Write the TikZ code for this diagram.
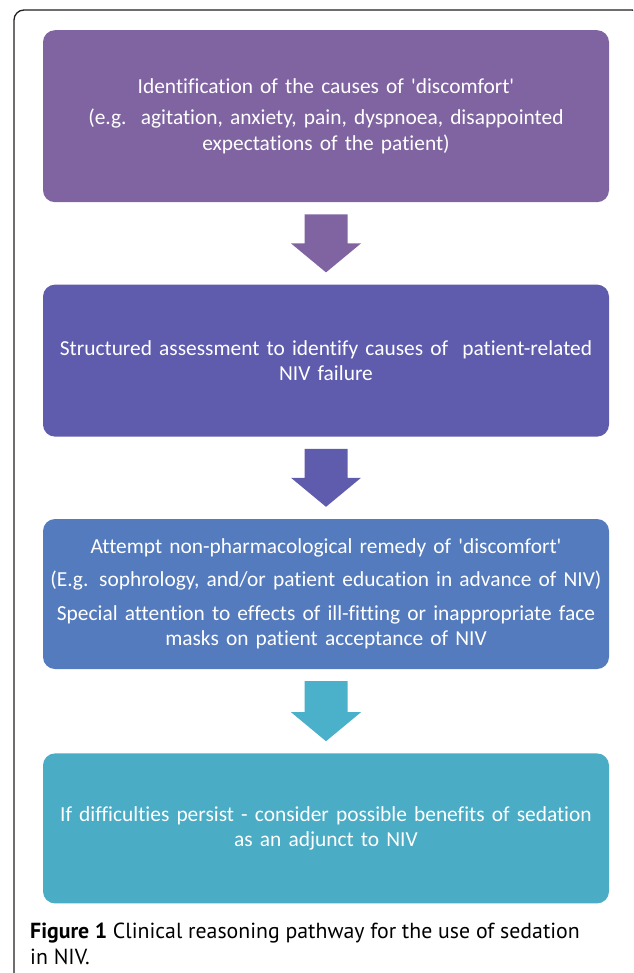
\documentclass[tikz,border=0pt]{standalone}
\usepackage{fontspec}
\setmainfont{Carlito}[Ligatures={NoCommon}]
\newfontfamily\capfont{PT Sans}
\usepackage{xcolor}
\usepackage{tikz}
\usetikzlibrary{positioning,calc}
\definecolor{stepA}{HTML}{8064A2}
\definecolor{stepB}{HTML}{5F5CAE}
\definecolor{stepC}{HTML}{547BBE}
\definecolor{stepD}{HTML}{4BACC6}
\definecolor{arrowC}{HTML}{4BB0C9}
\definecolor{framegray}{HTML}{231F20}
\tikzset{
  stepbox/.style={rectangle,rounded corners=12pt,draw=none,text=white,align=center,
    minimum width=566pt,text width=560pt,inner sep=0pt,
    font=\fontsize{21.4}{25.5}\selectfont},
  captiontext/.style={anchor=base west,align=left,inner sep=0pt,text=black,
    font=\capfont\fontsize{21.8}{26}\selectfont}
}
\newcommand{\q}{\textquotesingle}
\newcommand{\blockarrow}[3]{%
  \fill[#3] ($(#1.south)+(-21.5,-12)$) -- ($(#1.south)+(21.5,-12)$)
    -- ($(#2.north)+(21.5,41)$) -- ($(#2.north)+(35,41)$) -- ($(#2.north)+(0,12)$)
    -- ($(#2.north)+(-35,41)$) -- ($(#2.north)+(-21.5,41)$) -- cycle;}

\begin{document}
\begin{tikzpicture}[x=1pt,y=1pt,node distance=82pt]
  \useasboundingbox (0,0) rectangle (633,-973);
  \clip (0,0) rectangle (633,-973);
  \draw[framegray,line width=1.3pt,rounded corners=10pt] (14,-990) -- (14,-10) -- (642,-10) -- (642,-990);
  \node[stepbox,fill=stepA,minimum height=172pt,anchor=north] (ident) at (326,-30)
    {Identification of the causes of \q discomfort\q\\[6pt]
     (e.g.\ \ agitation, anxiety, pain, dyspnoea, disappointed\\expectations of the patient)};
  \node[stepbox,fill=stepB,minimum height=152pt,below=of ident] (assess)
    {Structured assessment to identify causes of\ \ patient-related\\NIV failure};
  \node[stepbox,fill=stepC,minimum height=150pt,below=of assess] (remedy)
    {Attempt non-pharmacological remedy of \q discomfort\q\\[8pt]
     (E.g. sophrology, and/or patient education in advance of NIV)\\[8pt]
     Special attention to effects of ill-fitting or inappropriate face\\
     masks on patient acceptance of NIV};
  \node[stepbox,fill=stepD,minimum height=150pt,below=84pt of remedy] (sedation)
    {If difficulties persist - consider possible benefits of sedation\\as an adjunct to NIV};
  \blockarrow{ident}{assess}{stepA}
  \blockarrow{assess}{remedy}{stepB}
  \blockarrow{remedy}{sedation}{arrowC}
  \node[captiontext] (caption) at (30,-964)
    {\textbf{Figure 1} Clinical reasoning pathway for the use of sedation\\in NIV.};
\end{tikzpicture}
\end{document}
